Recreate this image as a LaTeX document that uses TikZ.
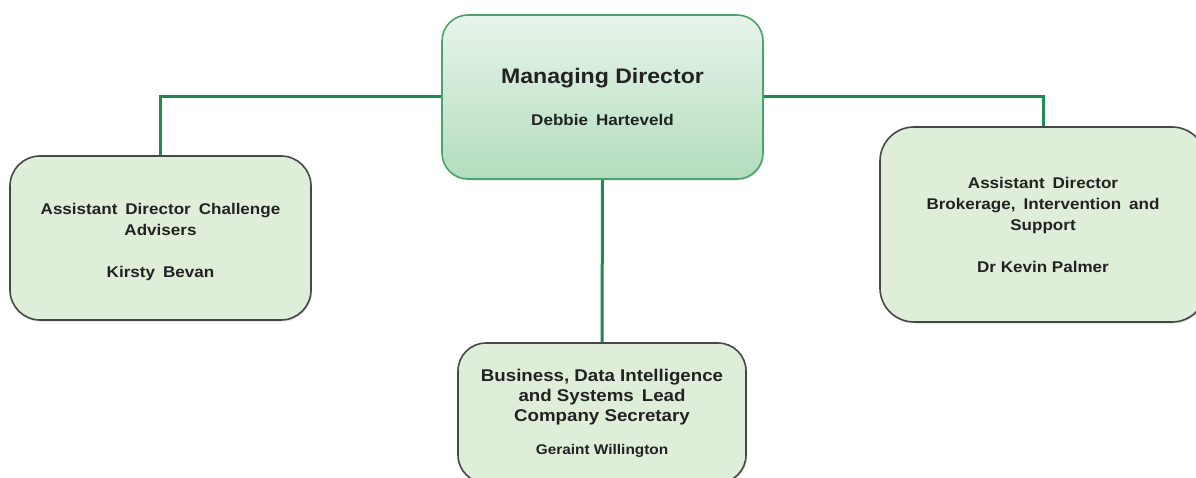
\documentclass[tikz,border=0pt]{standalone}
\usepackage{fontspec}
\setmainfont[FakeStretch=1.1]{Liberation Sans}
\usetikzlibrary{positioning,shadows}
\definecolor{linkgreen}{HTML}{1E8C4E}
\definecolor{mdborder}{HTML}{4AA36A}
\definecolor{mdtop}{HTML}{E8F4EA}
\definecolor{mdbottom}{HTML}{B2DDBD}
\definecolor{postfill}{HTML}{DFEED8}
\definecolor{postborder}{HTML}{474747}
\definecolor{posttext}{HTML}{222222}
\newcommand{\gap}{\hspace{8pt}}
\newcommand{\lift}[1]{\rule{0pt}{#1}}
\tikzset{
  post/.style={draw=postborder, line width=1.6pt, fill=postfill, rounded corners=30pt,
    align=center, inner sep=0pt, text=posttext, font=\bfseries\fontsize{15.5}{21}\selectfont,
    drop shadow={opacity=0.25, shadow xshift=1pt, shadow yshift=-1.5pt}},
  head/.style={draw=mdborder, line width=1.6pt, top color=mdtop, bottom color=mdbottom,
    rounded corners=26pt, align=center, inner sep=0pt, text=posttext,
    drop shadow={opacity=0.25, shadow xshift=1pt, shadow yshift=-1.5pt}},
  link/.style={draw=linkgreen, line width=3pt}
}
\begin{document}
\begin{tikzpicture}[x=1pt,y=-1pt]
	\useasboundingbox (0,0) rectangle (1196,478);
	\clip (0,0) rectangle (1196,478);
	
	% Managing director at the top
	\node[head, minimum width=321pt, minimum height=164pt] (md) at (602.5,97)
		{{\bfseries\fontsize{21}{24}\selectfont Managing Director}\\[26pt]
		 {\bfseries\fontsize{15.5}{18}\selectfont Debbie\gap Harteveld}};
	
	% the three posts below
	\node[post, minimum width=301pt, minimum height=164pt] (adv) at (160.5,238)
		{\lift{19pt}Assistant\gap Director\gap Challenge\\Advisers\\[21pt]Kirsty\gap Bevan};
	\node[post, minimum width=326pt, minimum height=195pt, rounded corners=34pt] (brk) at (1043,224.5)
		{Assistant\gap Director\\Brokerage,\gap Intervention\gap and\\Support\\[21pt]Dr Kevin Palmer};
	\node[post, minimum width=288pt, minimum height=140pt, rounded corners=28pt,
		font=\bfseries\fontsize{17}{20}\selectfont] (biz) at (602,413)
		{Business, Data Intelligence\\and Systems\gap Lead\\Company\ Secretary\\[13pt]
		 {\fontsize{14}{16}\selectfont Geraint Willington}};
	
	\draw[link] (md.west) -| (adv.north);% left branch
	\draw[link] (md.east) -| (brk.north);% right branch
	\draw[link] (md.south) -- (biz.north);% down to the lead
\end{tikzpicture}
\end{document}
